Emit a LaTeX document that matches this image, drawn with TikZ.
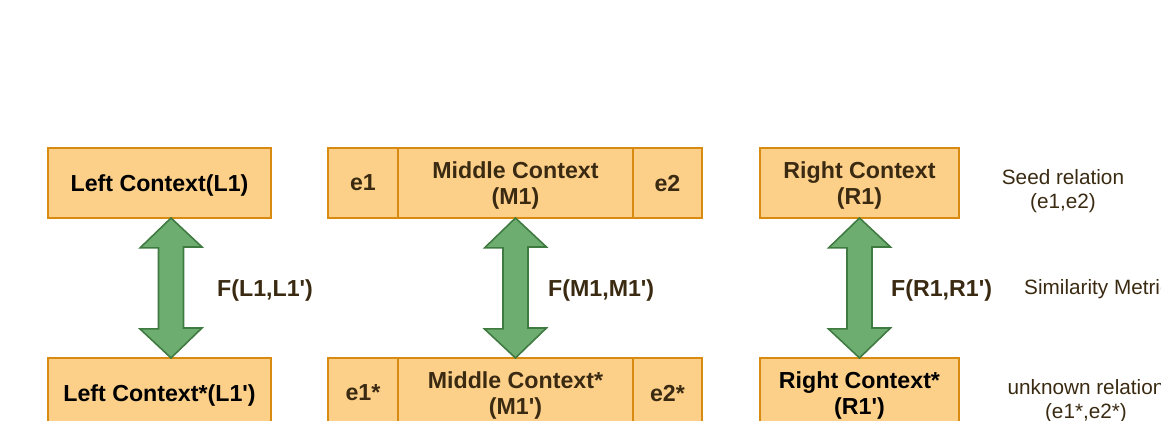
\documentclass[tikz,border=0pt]{standalone}
\usepackage{fontspec}
\setmainfont{Liberation Sans}[Ligatures=TeXOff]
\usetikzlibrary{positioning,calc}
\definecolor{boxfill}{HTML}{FDD08A}
\definecolor{boxline}{HTML}{D88B10}
\definecolor{arrfill}{HTML}{6DAD70}
\definecolor{arrline}{HTML}{3F7B41}
\definecolor{txtbrown}{HTML}{3A2A12}
\newcommand{\simarrow}[2]{%
  \draw[simarrow] (#1) -- ++(31,29) -- ++(-18.5,0) -- ++(0,81) -- ++(18.5,0)
    -- (#2) -- ++(-31,-29) -- ++(18.5,0) -- ++(0,-81) -- ++(-18.5,0) -- cycle;}

\begin{document}
\begin{tikzpicture}[x=0.02cm,y=-0.02cm,
  ctx/.style={draw=boxline,fill=boxfill,line width=1.1pt,minimum height=1.4cm,
    inner sep=0pt,outer sep=0pt,text depth=0pt,align=center,
    font=\bfseries\fontsize{13.2}{14.7}\selectfont},
  simarrow/.style={fill=arrfill,draw=arrline,line width=0.9pt,line join=miter},
  flab/.style={anchor=west,text=txtbrown,font=\bfseries\fontsize{13.2}{14.7}\selectfont},
  side/.style={align=center,text=txtbrown,font=\fontsize{11.8}{13.3}\selectfont}]
  \useasboundingbox (0,0) rectangle (1161,421);
  \clip (0,0) rectangle (1161,421);
  % seed row
  \node[ctx,minimum width=4.46cm] (L1) at (159.5,183) {Left Context(L1)};
  \node[ctx,minimum width=1.4cm,text=txtbrown] (e1) at (363,183) {e1};
  \node[ctx,minimum width=4.7cm,text=txtbrown,right=0pt of e1] (M1) {Middle Context\\(M1)};
  \node[ctx,minimum width=1.38cm,text=txtbrown,right=0pt of M1] (e2) {e2};
  \node[ctx,minimum width=3.98cm,text=txtbrown] (R1) at (859.5,183) {Right Context\\(R1)};
  % unknown row
  \node[ctx,minimum width=4.46cm,below=2.8cm of L1] (L1p) {Left Context*(L1')};
  \node[ctx,minimum width=1.4cm,text=txtbrown,below=2.8cm of e1] (e1p) {e1*};
  \node[ctx,minimum width=4.7cm,text=txtbrown,right=0pt of e1p] (M1p) {Middle Context*\\(M1')};
  \node[ctx,minimum width=1.38cm,text=txtbrown,right=0pt of M1p] (e2p) {e2*};
  \node[ctx,minimum width=3.98cm,below=2.8cm of R1] (R1p) {Right Context*\\(R1')};
  % similarity arrows
  \coordinate (aL) at ($(L1.south)+(11.5,0)$);
  \coordinate (bL) at ($(L1p.north)+(11.5,0)$);
  \simarrow{aL}{bL}
  \simarrow{M1.south}{M1p.north}
  \simarrow{R1.south}{R1p.north}
  \node[flab] (FL) at (211,291) {F(L1,L1')};
  \node[flab] (FM) at (542,291) {F(M1,M1')};
  \node[flab] (FR) at (885,291) {F(R1,R1')};
  % legend column
  \node[side] (seed) at (1063,191) {Seed relation\\(e1,e2)};
  \node[side,anchor=west] (sim) at (1018,289) {Similarity Metric};
  \node[side] (unk) at (1086,401) {unknown relation\\(e1*,e2*)};
\end{tikzpicture}
\end{document}
